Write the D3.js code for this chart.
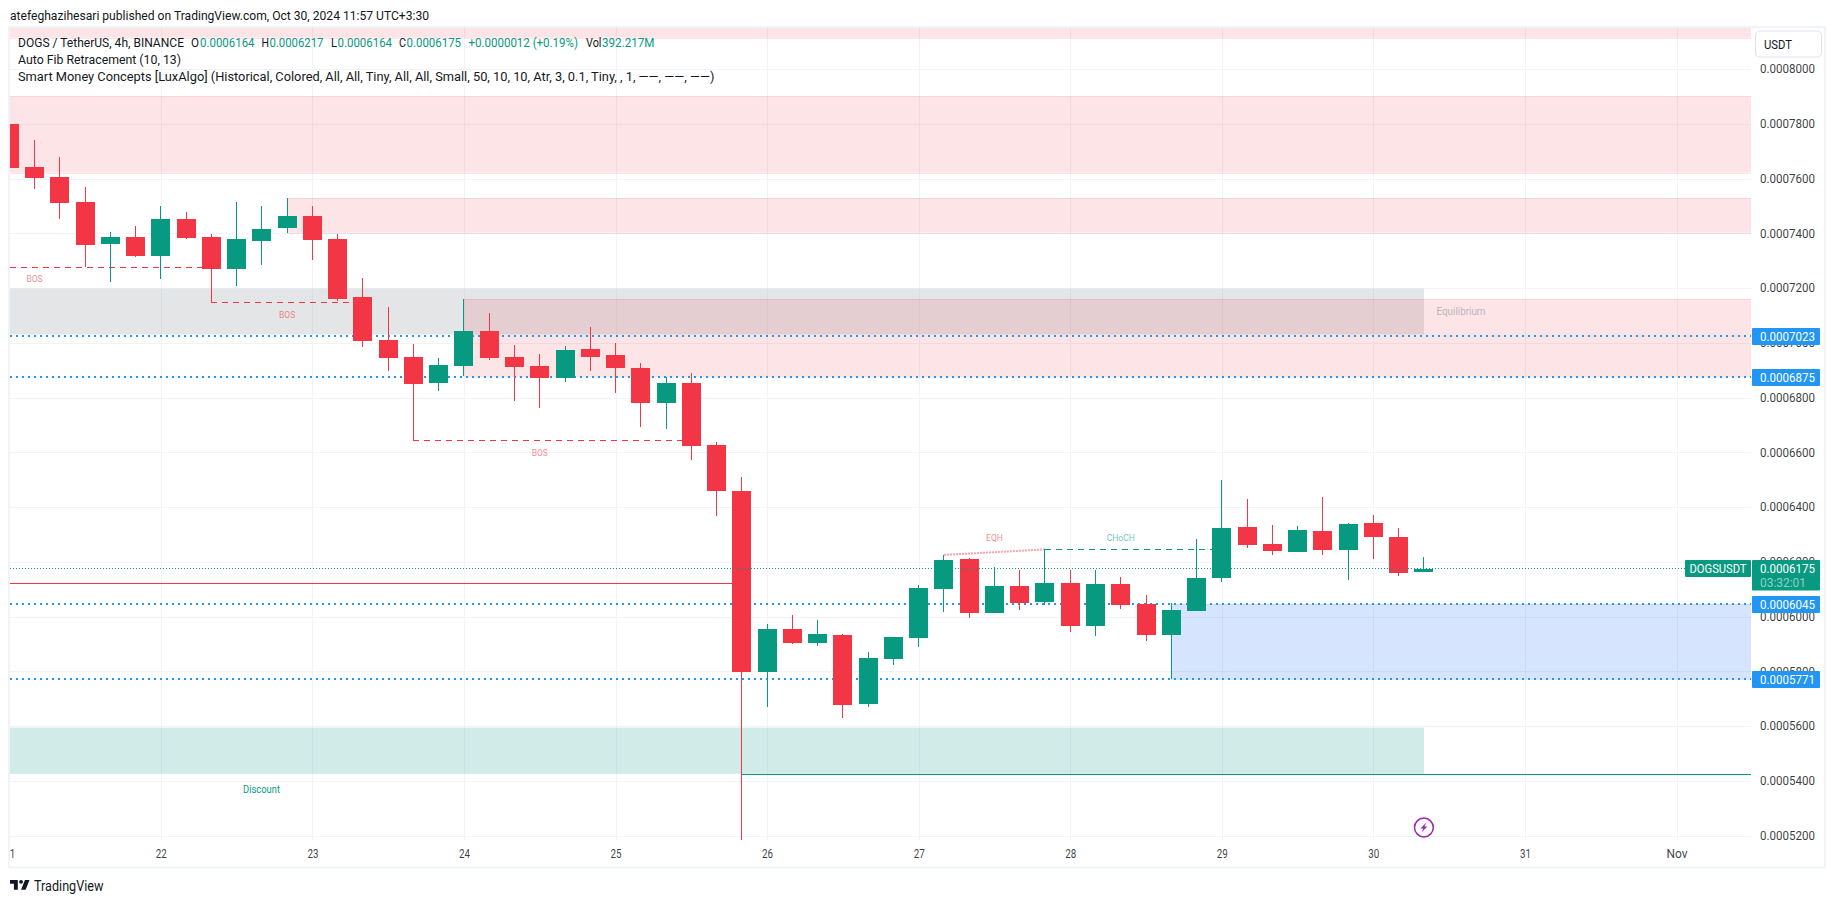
<!DOCTYPE html>
<html>
<head>
<meta charset="utf-8">
<script src="https://cdn.jsdelivr.net/npm/d3@7"></script>
<style>
  html, body { margin: 0; background: #fff; }
  svg { display: block; }
  text { font-family: Roboto, "Noto Sans", sans-serif; }
</style>
</head>
<body>
<div id="chart"></div>
<script>
// prices are in units of 0.0000001 USDT, one value per 4h bar starting Oct 21 00:00
const opens  = [7799,7642,7605,7514,7361,7386,7317,7452,7386,7269,7372,7419,7463,7379,7167,7010,6948,6853,6915,7043,6948,6915,6871,6977,6955,6908,6780,6853,6626,6458,5797,5954,5903,5932,5680,5845,5921,6100,6210,6013,6111,6053,6122,5965,6119,6046,5932,6020,6141,6327,6265,6236,6312,6243,6341,6290,6164];
const highs  = [7799,7741,7679,7569,7405,7426,7500,7478,7397,7514,7500,7529,7500,7397,7237,7131,6995,6944,7160,7109,6992,6959,6988,7057,6999,6926,6875,6889,6637,6510,5973,6005,5987,5936,5870,5925,6115,6225,6214,6181,6170,6245,6170,6170,6144,6078,6049,6283,6499,6429,6334,6331,6436,6341,6371,6323,6217];
const lows   = [7638,7562,7452,7277,7222,7313,7233,7379,7149,7207,7284,7401,7302,7153,6984,6897,6645,6824,6879,6937,6787,6762,6857,6897,6816,6692,6685,6572,6367,5184,5669,5899,5892,5629,5669,5823,5888,6016,5994,6013,6024,6042,5943,5929,6027,5910,5772,6020,6126,6250,6225,6236,6225,6133,6210,6148,6164];
const closes = [7638,7602,7510,7357,7386,7317,7452,7383,7269,7379,7416,7463,7375,7160,7006,6944,6849,6919,7043,6944,6911,6871,6973,6948,6908,6780,6853,6623,6458,5797,5954,5903,5936,5677,5848,5925,6104,6206,6013,6111,6049,6122,5965,6119,6042,5932,6024,6141,6323,6261,6239,6316,6243,6338,6290,6159,6175];

const priceTicks = [5200,5400,5600,5800,6000,6200,6400,6600,6800,7000,7200,7400,7600,7800,8000];
const fibLevels = [7023,6875,6045,5771];
const lastPrice = 6175;

// zones: [first bar, last bar or null for the right edge, top, bottom]
const supplyZones = [[-1,null,8160,8114],[-1,null,7900,7621],[11,null,7528,7402],[18,null,7159,6878]];
const demandZones = [[46,null,6045,5771]];
const equilibriumZone = [-1,56,7198,7030];
const discountZone = [-1,56,5594,5425];

const redLevel = [-1,29,6121];
const greenLevel = [29,null,5425];
const bosLines = [[-1,8,7277],[8,14,7149],[16,27,6645]];
const chochLine = [41,48,6245];
const eqhLine = [37,41,6225,6245];

const structureLabels = [
  ["BOS",1,7233,"#f23645"],["BOS",11,7103,"#f23645"],["BOS",21,6597,"#f23645"],
  ["EQH",39,6288,"#f23645"],["CHoCH",44,6288,"#089981"]
];

const W = 1835, H = 903;
const plot = {left: 10, right: 1751, top: 28, bottom: 840};
const RED = "#f23645", GREEN = "#089981", BLUE = "#2196f3";
const TXT = "#131722";

const t0 = Date.UTC(2024, 9, 21);
const barTime = i => d3.utcHour.offset(new Date(t0), i * 4);

const x = d3.scaleUtc()
  .domain([new Date(t0), new Date(Date.UTC(2024, 10, 1))])
  .range([9.3, 1676.5]);
const y = d3.scaleLinear().domain([5200, 8000]).range([835.5, 69]);
const xb = i => i == null ? plot.right : (i < 0 ? plot.left : Math.round(x(barTime(i))));

const svg = d3.select("#chart").append("svg").attr("width", W).attr("height", H);
svg.append("rect").attr("width", W).attr("height", H).attr("fill", "#fff");

svg.append("defs").append("clipPath").attr("id", "plotClip").append("rect")
  .attr("x", plot.left).attr("y", plot.top)
  .attr("width", plot.right - plot.left).attr("height", plot.bottom - plot.top);

// frame
svg.append("rect").attr("x", 9).attr("y", 27).attr("width", 1816).attr("height", 840.5)
  .attr("fill", "none").attr("stroke", "#f0f3fa").attr("stroke-width", 2);

const days = d3.utcDay.range(new Date(t0), new Date(Date.UTC(2024, 10, 2)));
const main = svg.append("g").attr("clip-path", "url(#plotClip)");

// grid
main.append("g").selectAll("line").data(priceTicks).join("line")
  .attr("x1", plot.left).attr("x2", plot.right)
  .attr("y1", d => Math.round(y(d)) + 0.5).attr("y2", d => Math.round(y(d)) + 0.5)
  .attr("stroke", "#f0f3fa");
main.append("g").selectAll("line").data(days).join("line")
  .attr("x1", d => Math.round(x(d)) + 0.5).attr("x2", d => Math.round(x(d)) + 0.5)
  .attr("y1", plot.top).attr("y2", plot.bottom)
  .attr("stroke", "#f0f3fa");

function drawZones(list, fill, edge) {
  const g = main.append("g");
  g.selectAll("rect").data(list).join("rect")
    .attr("x", d => xb(d[0])).attr("width", d => xb(d[1]) - xb(d[0]))
    .attr("y", d => y(d[2])).attr("height", d => y(d[3]) - y(d[2]))
    .attr("fill", fill);
  if (!edge) return;
  [2, 3].forEach(k => {
    g.append("g").selectAll("line").data(list).join("line")
      .attr("x1", d => xb(d[0])).attr("x2", d => xb(d[1]))
      .attr("y1", d => Math.round(y(d[k])) + 0.5).attr("y2", d => Math.round(y(d[k])) + 0.5)
      .attr("stroke", edge);
  });
}
drawZones([equilibriumZone], "rgba(120,123,134,0.2)");
drawZones(supplyZones, "rgba(242,54,69,0.13)", "rgba(242,54,69,0.13)");
drawZones(demandZones, "rgba(49,121,245,0.2)", "rgba(49,121,245,0.14)");
drawZones([discountZone], "rgba(8,153,129,0.185)");

// fib levels
main.append("g").selectAll("line").data(fibLevels).join("line")
  .attr("x1", plot.left).attr("x2", plot.right)
  .attr("y1", d => Math.round(y(d))).attr("y2", d => Math.round(y(d)))
  .attr("stroke", BLUE).attr("stroke-width", 2).attr("stroke-dasharray", "2 4");

// structure lines
main.append("line")
  .attr("x1", xb(redLevel[0])).attr("x2", xb(redLevel[1]))
  .attr("y1", Math.round(y(redLevel[2])) + 0.5).attr("y2", Math.round(y(redLevel[2])) + 0.5)
  .attr("stroke", RED);
main.append("line")
  .attr("x1", xb(greenLevel[0])).attr("x2", xb(greenLevel[1]))
  .attr("y1", Math.round(y(greenLevel[2])) + 0.5).attr("y2", Math.round(y(greenLevel[2])) + 0.5)
  .attr("stroke", GREEN);
main.append("g").selectAll("line").data(bosLines).join("line")
  .attr("x1", d => xb(d[0])).attr("x2", d => xb(d[1]))
  .attr("y1", d => Math.round(y(d[2])) + 0.5).attr("y2", d => Math.round(y(d[2])) + 0.5)
  .attr("stroke", RED).attr("stroke-dasharray", "6 5");
main.append("line")
  .attr("x1", xb(chochLine[0])).attr("x2", xb(chochLine[1]))
  .attr("y1", Math.round(y(chochLine[2])) + 0.5).attr("y2", Math.round(y(chochLine[2])) + 0.5)
  .attr("stroke", GREEN).attr("stroke-dasharray", "6 5");
main.append("line")
  .attr("x1", xb(eqhLine[0])).attr("x2", xb(eqhLine[1]))
  .attr("y1", y(eqhLine[2])).attr("y2", y(eqhLine[3]))
  .attr("stroke", RED).attr("stroke-opacity", 0.45).attr("stroke-width", 2).attr("stroke-dasharray", "2 1");

// candles
const candles = opens.map((o, i) => ({i, o, h: highs[i], l: lows[i], c: closes[i]}));
const color = d => d.c >= d.o ? GREEN : RED;
const gCandles = main.append("g");
gCandles.selectAll(".wick").data(candles).join("rect").attr("class", "wick")
  .attr("x", d => Math.floor(x(barTime(d.i)))).attr("width", 1)
  .attr("y", d => Math.round(y(d.h))).attr("height", d => Math.round(y(d.l)) - Math.round(y(d.h)))
  .attr("fill", color);
gCandles.selectAll(".body").data(candles).join("rect").attr("class", "body")
  .attr("x", d => Math.floor(x(barTime(d.i))) - 9).attr("width", 19)
  .attr("y", d => Math.round(y(Math.max(d.o, d.c))))
  .attr("height", d => Math.round(y(Math.min(d.o, d.c))) - Math.round(y(Math.max(d.o, d.c))))
  .attr("fill", color);

// last price line
main.append("line")
  .attr("x1", plot.left).attr("x2", 1685)
  .attr("y1", Math.round(y(lastPrice)) - 0.5).attr("y2", Math.round(y(lastPrice)) - 0.5)
  .attr("stroke", GREEN).attr("stroke-dasharray", "1 2");

// small labels on the chart
main.append("g").selectAll("text").data(structureLabels).join("text")
  .attr("x", d => x(barTime(d[1]))).attr("y", d => y(d[2]))
  .attr("text-anchor", "middle").attr("dominant-baseline", "central")
  .attr("font-size", 8.5).attr("fill", d => d[3]).attr("fill-opacity", 0.6)
  .text(d => d[0]);
main.append("text").attr("x", 1461).attr("y", y(7113)).attr("dominant-baseline", "central")
  .attr("text-anchor", "middle").attr("font-size", 10).attr("fill", "#787b86").attr("fill-opacity", 0.5)
  .attr("textLength", 49).attr("lengthAdjust", "spacingAndGlyphs")
  .text("Equilibrium");
main.append("text").attr("x", 261.5).attr("y", y(5367)).attr("dominant-baseline", "central")
  .attr("text-anchor", "middle").attr("font-size", 10).attr("fill", GREEN)
  .attr("textLength", 37).attr("lengthAdjust", "spacingAndGlyphs")
  .text("Discount");

// realtime bar marker
const bolt = main.append("g").attr("transform", `translate(${x(barTime(56))},827.5)`);
bolt.append("circle").attr("r", 9.4).attr("fill", "#fff").attr("stroke", "#9c27b0").attr("stroke-width", 1.5);
bolt.append("path").attr("d", "M2.5,-5 L-3.5,1 H-0.5 L-2.5,5 L3.5,-1 H0.5 Z").attr("fill", "#9c27b0");

// price axis
const priceFmt = d => (d * 1e-7).toFixed(7);
const yAxis = d3.axisRight(y).tickValues(priceTicks).tickSize(0).tickPadding(0).tickFormat(priceFmt);
const gy = svg.append("g").attr("transform", "translate(1760,0)").call(yAxis);
gy.select(".domain").remove();
gy.selectAll("text").attr("font-size", 12).attr("fill", TXT).attr("fill-opacity", 0.85).attr("x", 0)
  .attr("textLength", 55).attr("lengthAdjust", "spacingAndGlyphs");

// time axis, the first label is cut by the left edge
svg.select("defs").append("clipPath").attr("id", "timeClip").append("rect")
  .attr("x", plot.left).attr("y", -7).attr("width", plot.right - plot.left).attr("height", 26);
const dayFmt = d => d.getUTCDate() === 1 ? "Nov" : String(d.getUTCDate());
const xAxis = d3.axisBottom(x).tickValues(days).tickSize(0).tickPadding(0).tickFormat(dayFmt);
const gx = svg.append("g").attr("transform", "translate(0,849)")
  .attr("clip-path", "url(#timeClip)").call(xAxis);
gx.select(".domain").remove();
gx.selectAll("text").attr("font-size", 12).attr("fill", TXT).attr("fill-opacity", 0.85)
  .attr("textLength", d => d.getUTCDate() === 1 ? 21 : 11).attr("lengthAdjust", "spacingAndGlyphs");

// price labels
function priceTag(v, color, top, height) {
  svg.append("rect").attr("x", 1752).attr("y", top).attr("width", 68).attr("height", height)
    .attr("rx", 1).attr("fill", color);
  svg.append("text").attr("x", 1760).attr("y", top + 8.5).attr("dominant-baseline", "central")
    .attr("font-size", 12).attr("fill", "#fff")
    .attr("textLength", 55).attr("lengthAdjust", "spacingAndGlyphs").text(priceFmt(v));
}
fibLevels.forEach(v => priceTag(v, BLUE, Math.round(y(v)) - 8, 17));
priceTag(lastPrice, GREEN, 560, 30.5);
svg.append("text").attr("x", 1760).attr("y", 582.5).attr("dominant-baseline", "central")
  .attr("font-size", 12).attr("fill", "#fff").attr("fill-opacity", 0.55)
  .attr("textLength", 46).attr("lengthAdjust", "spacingAndGlyphs").text("03:32:01");
svg.append("rect").attr("x", 1685).attr("y", 560).attr("width", 66).attr("height", 17).attr("rx", 1).attr("fill", GREEN);
svg.append("text").attr("x", 1718).attr("y", 568.5).attr("dominant-baseline", "central").attr("text-anchor", "middle")
  .attr("font-size", 12).attr("fill", "#fff")
  .attr("textLength", 57).attr("lengthAdjust", "spacingAndGlyphs").text("DOGSUSDT");

// currency button
svg.append("rect").attr("x", 1755.5).attr("y", 31).attr("width", 66).attr("height", 26).attr("rx", 4)
  .attr("fill", "#fff").attr("stroke", "#e0e3eb");
svg.append("text").attr("x", 1764).attr("y", 44.5).attr("dominant-baseline", "central")
  .attr("font-size", 12).attr("fill", TXT).attr("textLength", 28).attr("lengthAdjust", "spacingAndGlyphs").text("USDT");

// legend and header
function line(txt, x0, x1, yy, fill, size) {
  svg.append("text").attr("x", x0).attr("y", yy).attr("dominant-baseline", "central")
    .attr("font-size", size || 12.5).attr("fill", fill || TXT)
    .attr("textLength", x1 - x0).attr("lengthAdjust", "spacingAndGlyphs").text(txt);
}
line("atefeghazihesari published on TradingView.com, Oct 30, 2024 11:57 UTC+3:30", 10, 429, 15, TXT, 13);
line("DOGS / TetherUS, 4h, BINANCE", 18, 184, 42);
line("O", 191, 199, 42);
line("0.0006164", 200, 254.5, 42, GREEN);
line("H", 261.5, 269, 42);
line("0.0006217", 269.5, 323.5, 42, GREEN);
line("L", 331, 337, 42);
line("0.0006164", 337.5, 392, 42, GREEN);
line("C", 399, 406, 42);
line("0.0006175", 406.5, 461, 42, GREEN);
line("+0.0000012 (+0.19%)", 468.5, 578, 42, GREEN);
line("Vol", 586, 601.5, 42);
line("392.217M", 602, 654.5, 42, GREEN);
line("Auto Fib Retracement (10, 13)", 18, 181, 59);
line("Smart Money Concepts [LuxAlgo] (Historical, Colored, All, All, Tiny, All, All, Small, 50, 10, 10, Atr, 3, 0.1, Tiny, , 1, \u2014\u2014, \u2014\u2014, \u2014\u2014)", 18, 714.5, 76);

// footer logo
svg.append("path").attr("transform", "translate(8.7,876) scale(0.65)")
  .attr("d", "M14 6H2v6h6v9h6V6Zm12 15h-7l6-15h7l-6 15Zm-7-9a3 3 0 1 0 0-6 3 3 0 0 0 0 6Z")
  .attr("fill", TXT);
line("TradingView", 34, 103.5, 885.5, TXT, 14);
</script>
</body>
</html>
